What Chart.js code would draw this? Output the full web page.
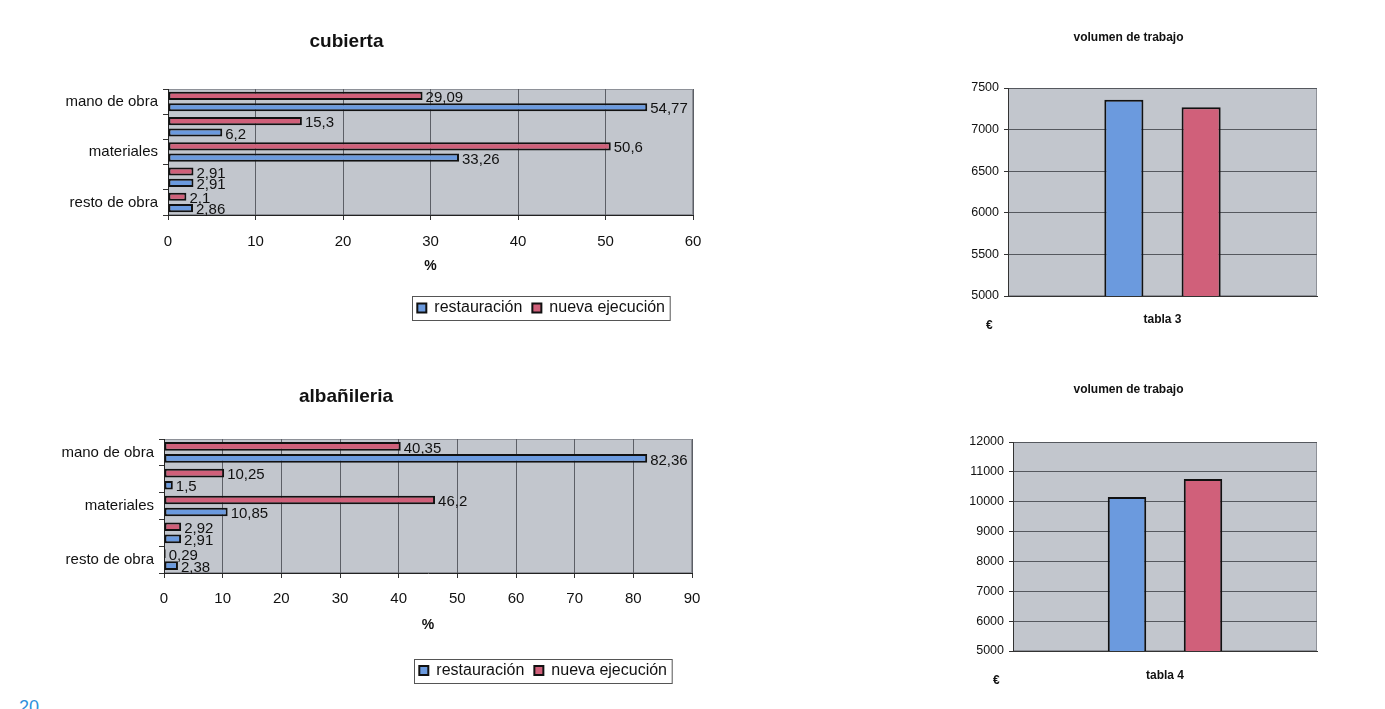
<!DOCTYPE html>
<html>
<head>
<meta charset="utf-8">
<script src="https://cdn.jsdelivr.net/npm/chart.js@4.4.1/dist/chart.umd.min.js"></script>
<style>
    body { margin: 0; background: #fff; width: 1385px; height: 709px; overflow: hidden; position: relative; font-family: "Liberation Sans", Arial, sans-serif; }
    .box { position: absolute; }
    .euro { position: absolute; font-weight: bold; font-size: 12px; color: #111; }
    .page { position: absolute; left: 19px; top: 697px; color: #2f8fdc; font-size: 18px; }
</style>
</head>
<body>
<div class="box" style="left:0;top:20px;width:720px;height:320px"><canvas id="cubierta"></canvas></div>
<div class="box" style="left:0;top:370px;width:720px;height:320px"><canvas id="albanileria"></canvas></div>
<div class="box" style="left:940px;top:20px;width:387px;height:330px"><canvas id="volumen3"></canvas></div>
<div class="box" style="left:940px;top:370px;width:387px;height:320px"><canvas id="volumen4"></canvas></div>
<div class="euro" style="left:986px;top:318px">€</div>
<div class="euro" style="left:993px;top:673px">€</div>
<div class="page">20</div>

<script>
var seriesNames = ['restauración', 'nueva ejecución'];
var rowLabels = ['mano de obra', '', 'materiales', '', 'resto de obra'];

var cubiertaRestauracion = [54.77, 6.2, 33.26, 2.91, 2.86];
var cubiertaNueva = [29.09, 15.3, 50.6, 2.91, 2.1];

var albanileriaRestauracion = [82.36, 1.5, 10.85, 2.91, 2.38];
var albanileriaNueva = [40.35, 10.25, 46.2, 2.92, 0.29];

var volumenLabels3 = ['tabla 3'];
var volumenRestauracion3 = [7360];
var volumenNueva3 = [7270];

var volumenLabels4 = ['tabla 4'];
var volumenRestauracion4 = [10160];
var volumenNueva4 = [10760];

var blue = '#6b9ade';
var red = '#d0607a';
var plotGray = '#c2c6cd';

Chart.defaults.font.family = '"Liberation Sans", Arial, sans-serif';
Chart.defaults.color = '#111';

// gray plot area like the old excel charts
var plotBackground = {
    id: 'plotBackground',
    beforeDraw: function (chart) {
        var a = chart.chartArea;
        var ctx = chart.ctx;
        ctx.save();
        ctx.fillStyle = plotGray;
        ctx.fillRect(a.left, a.top, a.right - a.left, a.bottom - a.top);
        ctx.strokeStyle = '#8e9198';
        ctx.lineWidth = 1;
        ctx.strokeRect(a.left + 0.5, a.top + 0.5, a.right - a.left - 1, a.bottom - a.top - 1);
        ctx.restore();
    }
};

var valueLabels = {
    id: 'valueLabels',
    afterDatasetsDraw: function (chart) {
        var ctx = chart.ctx;
        ctx.save();
        ctx.font = '15px "Liberation Sans", Arial, sans-serif';
        ctx.fillStyle = '#111';
        ctx.textBaseline = 'middle';
        chart.data.datasets.forEach(function (ds, i) {
            chart.getDatasetMeta(i).data.forEach(function (bar, j) {
                var txt = String(ds.data[j]).replace('.', ',');
                ctx.fillText(txt, bar.x + 3, bar.y + 2);
            });
        });
        ctx.restore();
    }
};

function legendFrame(shift) {
    return {
        id: 'legendFrame',
        afterLayout: function (chart) {
            chart.legend.right -= shift;
        },
        afterDraw: function (chart) {
            var boxes = chart.legend.legendHitBoxes;
            if (!boxes || !boxes.length) return;
            var left = boxes[0].left, right = 0, top = boxes[0].top, bottom = 0;
            boxes.forEach(function (b) {
                left = Math.min(left, b.left);
                right = Math.max(right, b.left + b.width);
                top = Math.min(top, b.top);
                bottom = Math.max(bottom, b.top + b.height);
            });
            var ctx = chart.ctx;
            ctx.save();
            ctx.strokeStyle = '#555';
            ctx.lineWidth = 1;
            ctx.strokeRect(Math.round(left - 5) + 0.5, Math.round(top - 4) + 0.5, right - left + 10, bottom - top + 8);
            ctx.restore();
        }
    };
}

function initPercentChart(id, title, restauracion, nueva, maxValue, cfg) {
    var ctx = document.getElementById(id).getContext('2d');

    var data = {
        labels: rowLabels,
        datasets: [{
            label: seriesNames[1],
            data: nueva,
            backgroundColor: red,
            borderColor: '#111',
            borderWidth: 2,
            borderSkipped: false
        }, {
            label: seriesNames[0],
            data: restauracion,
            backgroundColor: blue,
            borderColor: '#111',
            borderWidth: 2,
            borderSkipped: false
        }]
    };

    var options = {
        indexAxis: 'y',
        responsive: true,
        maintainAspectRatio: false,
        animation: false,
        categoryPercentage: 0.9,
        barPercentage: 0.72,
        layout: {
            padding: { left: 0, right: cfg.padRight, top: 0, bottom: cfg.padBottom }
        },
        scales: {
            x: {
                min: 0,
                max: maxValue,
                ticks: { stepSize: 10, font: { size: 15 }, color: '#111', padding: cfg.xTickPad },
                grid: { color: '#5c5f66', tickLength: 5, tickColor: '#333' },
                border: { color: '#222' },
                title: {
                    display: true,
                    text: '%',
                    font: { size: 14, weight: 'bold' },
                    color: '#111',
                    padding: { top: 0, bottom: cfg.titlePad }
                },
                afterFit: function (scale) { scale.height = cfg.xHeight; }
            },
            y: {
                ticks: { font: { size: 15 }, color: '#111', padding: 5 },
                grid: { drawOnChartArea: false, tickLength: 5, color: '#333' },
                border: { color: '#222' },
                afterFit: function (scale) { scale.width = cfg.yWidth; }
            }
        },
        plugins: {
            title: {
                display: true,
                text: title,
                font: { size: 19, weight: 'bold' },
                color: '#111',
                padding: { top: cfg.titleTop, bottom: cfg.titleBottom }
            },
            legend: {
                position: 'bottom',
                align: 'end',
                reverse: true,
                labels: { boxWidth: 9, boxHeight: 9, font: { size: 16 }, color: '#111', padding: 10 }
            },
            tooltip: { enabled: false }
        }
    };

    new Chart(ctx, {
        type: 'bar',
        data: data,
        options: options,
        plugins: [plotBackground, valueLabels, legendFrame(cfg.legendShift)]
    });
}

function initVolumeChart(id, labels, restauracion, nueva, minValue, maxValue, step, cfg) {
    var ctx = document.getElementById(id).getContext('2d');

    var data = {
        labels: labels,
        datasets: [{
            label: seriesNames[0],
            data: restauracion,
            backgroundColor: blue,
            borderColor: '#111',
            borderWidth: 2,
            borderSkipped: false
        }, {
            label: seriesNames[1],
            data: nueva,
            backgroundColor: red,
            borderColor: '#111',
            borderWidth: 2,
            borderSkipped: false
        }]
    };

    var options = {
        responsive: true,
        maintainAspectRatio: false,
        animation: false,
        categoryPercentage: 0.5,
        barPercentage: 0.506,
        layout: {
            padding: { left: 0, right: 10, top: 0, bottom: cfg.padBottom }
        },
        scales: {
            x: {
                ticks: { font: { size: 12, weight: 'bold' }, color: '#111', padding: cfg.xTickPad },
                grid: { display: false },
                border: { color: '#333' },
                afterFit: function (scale) { scale.height = cfg.xHeight; }
            },
            y: {
                min: minValue,
                max: maxValue,
                ticks: {
                    stepSize: step,
                    font: { size: 12.5 },
                    color: '#111',
                    padding: 5,
                    callback: function (value) { return String(value); }
                },
                grid: { color: '#55585e', tickLength: 4, tickColor: '#333' },
                border: { color: '#333' },
                afterFit: function (scale) { scale.width = cfg.yWidth; }
            }
        },
        plugins: {
            title: {
                display: true,
                text: 'volumen de trabajo',
                font: { size: 12, weight: 'bold' },
                color: '#111',
                padding: { top: cfg.titleTop, bottom: cfg.titleBottom }
            },
            legend: { display: false },
            tooltip: { enabled: false }
        }
    };

    new Chart(ctx, {
        type: 'bar',
        data: data,
        options: options,
        plugins: [plotBackground]
    });
}

initPercentChart('cubierta', 'cubierta', cubiertaRestauracion, cubiertaNueva, 60, {
    padRight: 27, padBottom: 14, xHeight: 75, xTickPad: 13, titlePad: 15, yWidth: 168,
    titleTop: 10.6, titleBottom: 35.6, legendShift: 18
});
initPercentChart('albanileria', 'albañileria', albanileriaRestauracion, albanileriaNueva, 90, {
    padRight: 28, padBottom: 1.5, xHeight: 79.5, xTickPad: 12, titlePad: 19, yWidth: 164,
    titleTop: 15.6, titleBottom: 30.6, legendShift: 15
});
initVolumeChart('volumen3', volumenLabels3, volumenRestauracion3, volumenNueva3, 5000, 7500, 500, {
    padBottom: 14, xHeight: 40, xTickPad: 8, yWidth: 68, titleTop: 10.8, titleBottom: 42.8
});
initVolumeChart('volumen4', volumenLabels4, volumenRestauracion4, volumenNueva4, 5000, 12000, 1000, {
    padBottom: 3, xHeight: 36, xTickPad: 9, yWidth: 73, titleTop: 12.8, titleBottom: 44.8
});
</script>
</body>
</html>
